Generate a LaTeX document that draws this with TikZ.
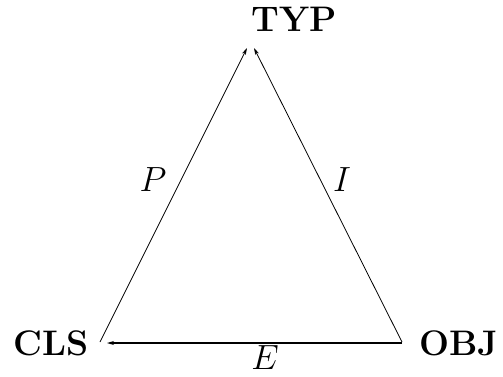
\RequirePackage{fix-cm}
\documentclass[tikz,border=0pt]{standalone}
\usetikzlibrary{arrows.meta}
\begin{document}
\begin{tikzpicture}[x=1pt,y=-1pt,
  lbl/.style={font=\fontsize{35.5}{40}\selectfont\bfseries, inner sep=0pt},
  mlbl/.style={font=\fontsize{35}{40}\selectfont, inner sep=0pt},
  arr/.style={line width=0.8pt, -{Stealth[length=7pt,width=4pt]}}]
\useasboundingbox (0,0) rectangle (503,377);
\node[lbl] (TYP) at (294,19) {TYP};
\node[lbl] (CLS) at (51,343) {CLS};
\node[lbl] (OBJ) at (459,343) {OBJ};
\coordinate (tl) at (247,48);
\coordinate (tr) at (254,48);
\coordinate (cl) at (100,342);
\coordinate (cb) at (107,343);
\coordinate (ob) at (402,343);
\coordinate (or) at (402,342);
\draw[arr] (cl) -- (tl);
\draw[arr] (or) -- (tr);
\draw[arr, line width=1.2pt] (ob) -- (cb);
\node[mlbl] (P) at (153,180) {$P$};
\node[mlbl] (I) at (342,180) {$I$};
\node[mlbl] (E) at (265,358) {$E$};
\end{tikzpicture}
\end{document}
